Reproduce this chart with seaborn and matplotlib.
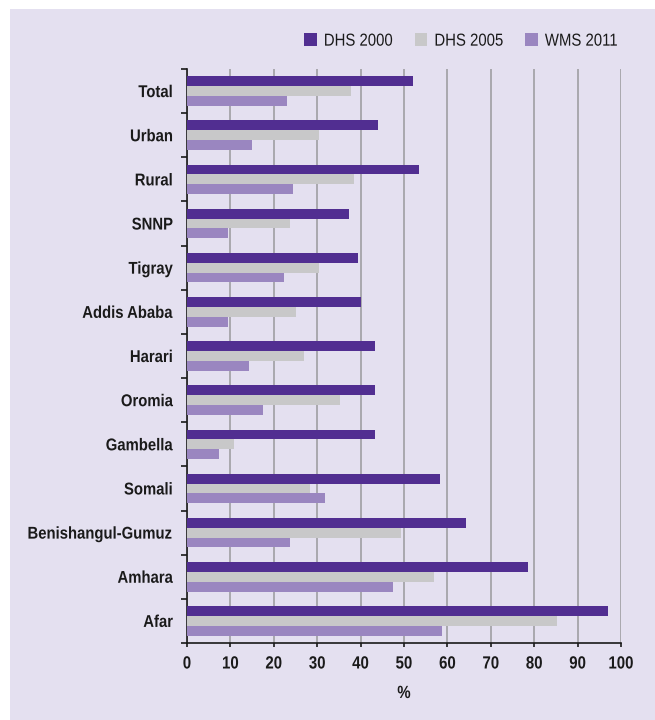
import numpy as np
import pandas as pd
import matplotlib
matplotlib.use('Agg')
import matplotlib.pyplot as plt
import seaborn as sns
from matplotlib.patches import Rectangle
from matplotlib.ticker import MultipleLocator, FixedLocator
from matplotlib.transforms import Affine2D
from matplotlib import patheffects

# Dados
regions = ['Total', 'Urban', 'Rural', 'SNNP', 'Tigray', 'Addis Ababa', 'Harari',
           'Oromia', 'Gambella', 'Somali', 'Benishangul-Gumuz', 'Amhara', 'Afar']
series = ['DHS 2000', 'DHS 2005', 'WMS 2011']
dhs_2000 = [52.1, 44.0, 53.5, 37.3, 39.3, 40.0, 43.4, 43.4, 43.4, 58.2, 64.4, 78.6, 96.9]
dhs_2005 = [37.8, 30.5, 38.5, 23.7, 30.5, 25.1, 27.0, 35.3, 10.8, 28.4, 49.4, 57.0, 85.3]
wms_2011 = [23.0, 14.9, 24.4, 9.4, 22.3, 9.4, 14.3, 17.5, 7.4, 31.8, 23.7, 47.5, 58.8]

colors = ['#512E91', '#C8C8C9', '#9A86C0']
bg = '#E4E0F0'
ink = '#1a1a1a'


class Squeeze(patheffects.AbstractPathEffect):
    # estreita o texto na horizontal (fonte "narrow" nao instalada)
    def __init__(self, sx, anchor='right'):
        super().__init__()
        self.sx = sx
        self.anchor = anchor

    def draw_path(self, renderer, gc, tpath, affine, rgbFace=None):
        ext = tpath.get_extents()
        x0 = {'right': ext.x1, 'left': ext.x0, 'center': (ext.x0 + ext.x1) / 2}[self.anchor]
        sq = Affine2D().translate(-x0, 0).scale(self.sx, 1).translate(x0, 0)
        renderer.draw_path(gc, tpath, sq + affine, rgbFace)


df = pd.DataFrame({
    'Region': regions * 3,
    'Series': np.repeat(series, len(regions)),
    'Value': dhs_2000 + dhs_2005 + wms_2011,
})

sns.set_style('white')
plt.rcParams['font.family'] = ['Liberation Sans', 'DejaVu Sans']

fig = plt.figure(figsize=(6.55, 7.2), dpi=100, facecolor='white')
fig.patches.append(Rectangle((10 / 655, 0), 1, 1 - 9 / 720, transform=fig.transFigure,
                             facecolor=bg, edgecolor='none', zorder=-10))
ax = fig.add_axes([187 / 655, 1 - 643 / 720, 434 / 655, 574 / 720])
ax.set_facecolor(bg)

sns.barplot(data=df, x='Value', y='Region', hue='Series', order=regions,
            hue_order=series, palette=colors, orient='h', width=0.67,
            saturation=1, linewidth=0, ax=ax, zorder=3)

ax.set_xlim(0, 100)
ax.set_ylim(len(regions) - 0.5, -0.5)
ax.xaxis.set_major_locator(MultipleLocator(10))
ax.grid(axis='x', color='#A9A8AE', linewidth=1.4, zorder=0)
ax.grid(axis='y', visible=False)
ax.set_axisbelow(True)

for s in ['top', 'right']:
    ax.spines[s].set_visible(False)
for s in ['left', 'bottom']:
    ax.spines[s].set_color(ink)
    ax.spines[s].set_linewidth(1.2)

ax.yaxis.set_minor_locator(FixedLocator(np.arange(-0.5, len(regions), 1)))
ax.tick_params(axis='y', which='major', length=0, pad=10)
ax.tick_params(axis='y', which='minor', length=4, width=1.2, color=ink, left=True)
ax.tick_params(axis='x', which='major', length=3, width=1.2, color=ink, bottom=True, pad=6)

for lab in ax.get_yticklabels():
    lab.set_fontsize(12.3)
    lab.set_fontweight('bold')
    lab.set_color(ink)
    lab.set_path_effects([Squeeze(0.87, 'right')])
for lab in ax.get_xticklabels():
    lab.set_fontsize(12.7)
    lab.set_fontweight('bold')
    lab.set_color(ink)
    lab.set_path_effects([Squeeze(0.85, 'center')])

ax.set_ylabel('')
ax.set_xlabel('%', fontsize=12.7, fontweight='bold', color=ink, labelpad=9,
              path_effects=[Squeeze(0.85, 'center')])

leg = ax.legend(title=None, ncol=3, frameon=False, loc='center left',
                bbox_to_anchor=(304 / 655, 1 - 41 / 720), bbox_transform=fig.transFigure,
                borderpad=0, borderaxespad=0,
                handlelength=0.73, handleheight=0.73, handletextpad=0.4, columnspacing=0.63,
                fontsize=12.5, labelcolor=ink)
for t in leg.get_texts():
    t.set_path_effects([Squeeze(0.86, 'left')])

fig.savefig('out.png', dpi=100, facecolor=fig.get_facecolor())
